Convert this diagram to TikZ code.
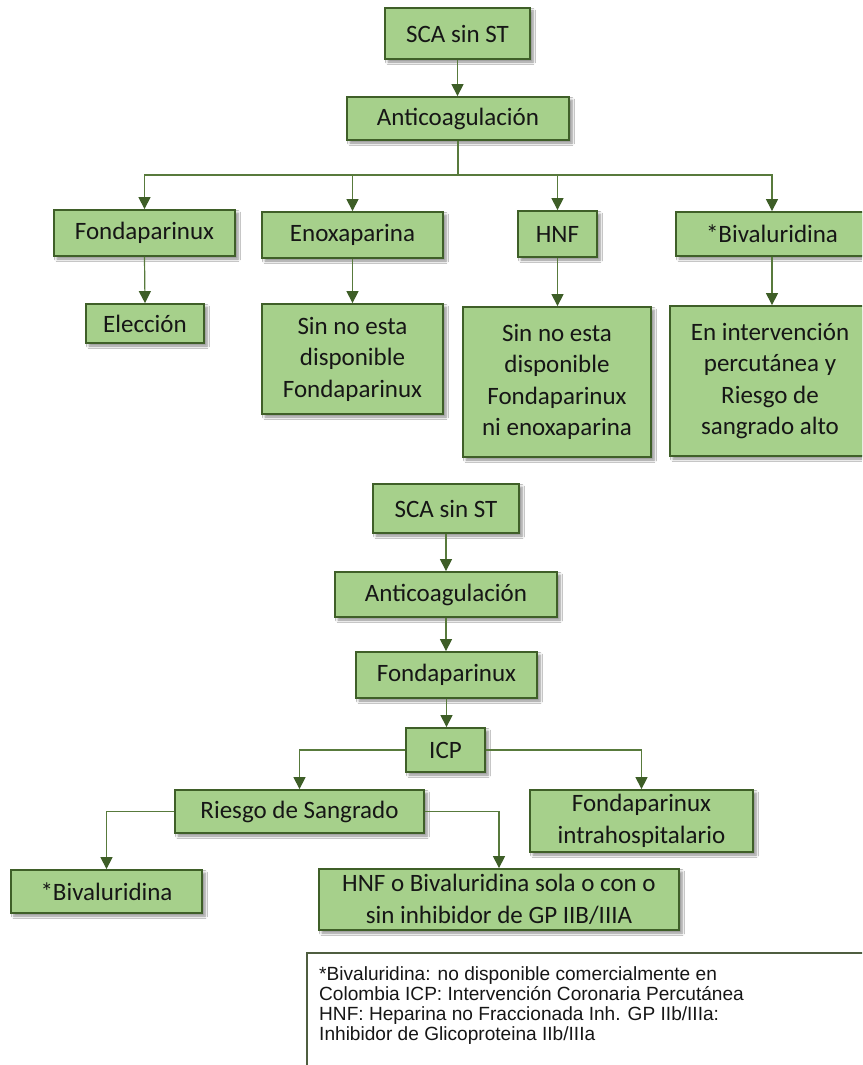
\documentclass[tikz,border=0pt]{standalone}
\usepackage{fontspec}
\setmainfont{Carlito}
\newfontfamily\legendfont{Liberation Sans}
\usetikzlibrary{arrows.meta,shadows.blur}

\definecolor{boxfill}{HTML}{A6D08B}
\definecolor{boxline}{HTML}{3F5F28}
\definecolor{connline}{HTML}{587A3C}
\definecolor{tipcol}{HTML}{3E5E27}
\definecolor{inktext}{HTML}{161616}
\definecolor{legendline}{HTML}{4F5E40}

\tikzset{
  flowbox/.style={draw=boxline, line width=1.8pt, fill=boxfill, text=inktext,
    inner sep=0pt, align=center,
    font=\fontsize{25}{31.5}\selectfont,
    blur shadow={shadow xshift=3pt, shadow yshift=-3pt, shadow blur steps=6,
      shadow blur radius=2.5pt, shadow opacity=45}},
  conn/.style={draw=connline, line width=1.2pt,
    -{Triangle[width=12pt,length=12pt,color=tipcol]}},
  plain/.style={draw=connline, line width=1.2pt},
  legendframe/.style={draw=legendline, line width=1.6pt, fill=white,
    minimum width=600pt, minimum height=160pt, anchor=north west},
  legendtext/.style={anchor=north west, align=left, inner sep=0pt, text=inktext,
    font=\legendfont\fontsize{19.1}{20.1}\selectfont}
}

\begin{document}
\begin{tikzpicture}[x=1pt,y=-1pt]
\clip (0,0) rectangle (862,1065);
\fill[white] (0,0) rectangle (862,1065);

% ---------- first chart ----------
\node[flowbox, minimum width=145pt, minimum height=51pt] (sca1) at (457.5,33.5) {SCA sin ST};
\node[flowbox, minimum width=222pt, minimum height=43pt] (anti1) at (458,118.5) {Anticoagulación};
\coordinate (bus) at (458,175);

\node[flowbox, minimum width=181pt, minimum height=46pt] (fonda1) at (144.5,233) {Fondaparinux};
\node[flowbox, minimum width=181pt, minimum height=46pt] (enox) at (352.5,235) {Enoxaparina};
\node[flowbox, minimum width=79pt, minimum height=46pt] (hnf1) at (557.5,234) {HNF};
\node[flowbox, minimum width=192pt, minimum height=44pt] (biv1) at (772,234) {*Bivaluridina};

\node[flowbox, minimum width=118pt, minimum height=39pt] (elec) at (145,323.5) {Elección};
\node[flowbox, minimum width=181pt, minimum height=110pt] (enoxc) at (352.5,359) {Sin no esta\\disponible\\Fondaparinux};
\node[flowbox, minimum width=188pt, minimum height=150pt] (hnfc) at (557,382) {Sin no esta\\disponible\\Fondaparinux\\ni enoxaparina};
\node[flowbox, minimum width=200pt, minimum height=150pt] (bivc) at (770,381) {En intervención\\percutánea y\\Riesgo de\\sangrado alto};

\draw[conn] (sca1.south) -- (sca1.south |- anti1.north);
\draw[plain] (anti1.south) -- (bus);
\draw[conn] (bus) -| (fonda1.north);
\draw[conn] (bus) -| (enox.north);
\draw[conn] (bus) -| (hnf1.north);
\draw[conn] (bus) -| (biv1.north);
\draw[conn] (fonda1.south) -- (elec.north);
\draw[conn] (enox.south) -- (enoxc.north);
\draw[conn] (hnf1.south) -- (hnf1.south |- hnfc.north);
\draw[conn] (biv1.south) -- (biv1.south |- bivc.north);

% ---------- second chart ----------
\node[flowbox, minimum width=146pt, minimum height=49pt] (sca2) at (446,508.5) {SCA sin ST};
\node[flowbox, minimum width=222pt, minimum height=45pt] (anti2) at (446,594.5) {Anticoagulación};
\node[flowbox, minimum width=181pt, minimum height=46pt] (fonda2) at (446.5,675) {Fondaparinux};
\node[flowbox, minimum width=79pt, minimum height=44pt] (icp) at (445.5,750) {ICP};
\node[flowbox, minimum width=249pt, minimum height=43pt] (riesgo) at (299.5,811.5) {Riesgo de Sangrado};
\node[flowbox, minimum width=223pt, minimum height=62pt] (fintra) at (641.5,821) {Fondaparinux\\intrahospitalario};
\node[flowbox, minimum width=191pt, minimum height=43pt] (biv2) at (106.5,891.5) {*Bivaluridina};
\node[flowbox, minimum width=360pt, minimum height=61pt] (hnfo) at (499,899.5) {HNF o Bivaluridina sola o con o\\sin inhibidor de GP IIB/IIIA};

\draw[conn] (sca2.south) -- (sca2.south |- anti2.north);
\draw[conn] (anti2.south) -- (anti2.south |- fonda2.north);
\draw[conn] (fonda2.south) -- (fonda2.south |- icp.north);
\draw[conn] (icp.west) -| (riesgo.north);
\draw[conn] (icp.east) -| (fintra.north);
\draw[conn] (riesgo.west) -| (biv2.north);
\draw[conn] (riesgo.east) -| (hnfo.north);

% ---------- abbreviations ----------
\node[legendframe] (legend) at (306,952) {};
\node[legendtext] (legendbody) at (319,966) {*Bivaluridina: no disponible comercialmente en\\
Colombia ICP: Intervención Coronaria Percutánea\\
HNF: Heparina no Fraccionada Inh. GP IIb/IIIa:\\
Inhibidor de Glicoproteina IIb/IIIa};
\end{tikzpicture}
\end{document}
